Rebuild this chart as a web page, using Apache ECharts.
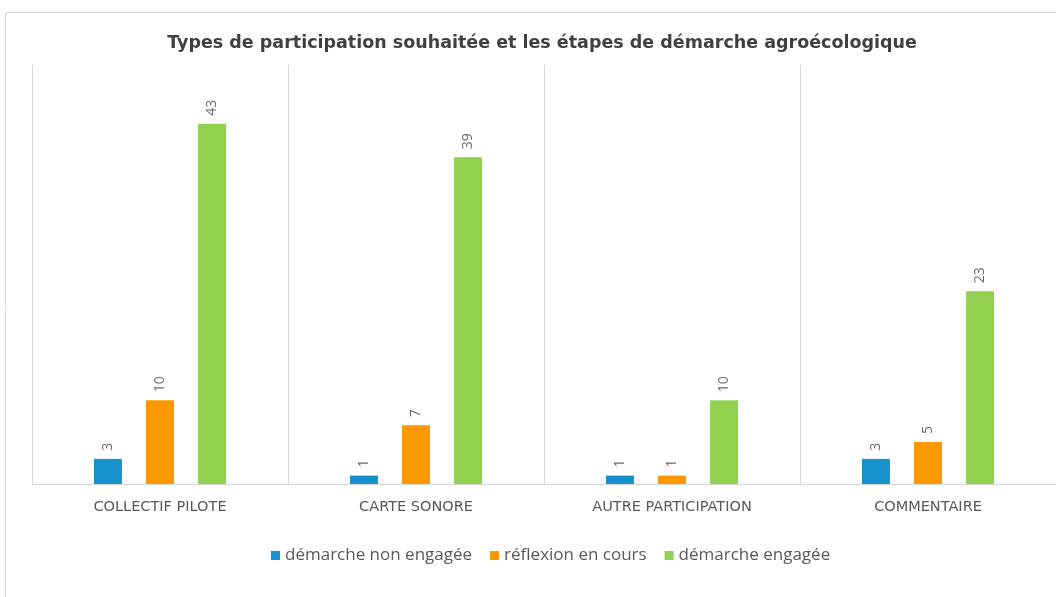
<!DOCTYPE html>
<html><head><meta charset="utf-8">
<script src="https://cdn.jsdelivr.net/npm/echarts@6/dist/echarts.min.js"></script>
<style>html,body{margin:0;padding:0;background:#fff}#c{width:1056px;height:597px}</style>
</head><body><div id="c"></div>
<script>
const categories = ['COLLECTIF PILOTE', 'CARTE SONORE', 'AUTRE PARTICIPATION', 'COMMENTAIRE'];
const seriesNames = ['démarche non engagée', 'réflexion en cours', 'démarche engagée'];
const nonEngagee = [3, 1, 1, 3];
const reflexion = [10, 7, 1, 5];
const engagee = [43, 39, 10, 23];
const colors = ['#1591CB', '#FA9A00', '#92D050'];
const titleText = 'Types de participation souhaitée et les étapes de démarche agroécologique';

const chart = echarts.init(document.getElementById('c'), null, {renderer: 'canvas'});
const labelOpt = {
  show: true, position: 'top', rotate: 90, align: 'left', verticalAlign: 'middle',
  distance: 8, color: '#6a6a6a', fontSize: 14, fontFamily: 'Open Sans'
};
const mk = (name, data, color) => ({
  name, type: 'bar', data, barWidth: 28, barGap: '86%',
  itemStyle: {color}, label: labelOpt
});
chart.setOption({
  animation: false,
  graphic: [{type: 'rect', shape: {x: 5.5, y: 12.5, width: 1200, height: 800},
    style: {fill: 'none', stroke: '#d9d9d9', lineWidth: 1}, silent: true}],
  title: {text: titleText, left: 537, top: 29, textAlign: 'center',
    textStyle: {fontFamily: 'DejaVu Sans', fontSize: 17.5, fontWeight: 'bold', color: '#404040'}},
  legend: {bottom: 28, left: 266, itemWidth: 9, itemHeight: 9, itemGap: 18, icon: 'rect',
    textStyle: {fontFamily: 'Open Sans', fontSize: 17, color: '#595959'}},
  grid: {left: 32, right: 0, top: 65, bottom: 113},
  xAxis: {type: 'category', data: categories,
    axisLine: {lineStyle: {color: '#d9d9d9'}}, axisTick: {show: false},
    splitLine: {show: true, lineStyle: {color: '#d9d9d9'}},
    axisLabel: {margin: 16, color: '#595959', fontSize: 14.5, fontFamily: 'DejaVu Sans'}},
  yAxis: {type: 'value', min: 0, max: 50, show: false, splitLine: {show: false}},
  series: [mk(seriesNames[0], nonEngagee, colors[0]), mk(seriesNames[1], reflexion, colors[1]), mk(seriesNames[2], engagee, colors[2])]
});
</script></body></html>
